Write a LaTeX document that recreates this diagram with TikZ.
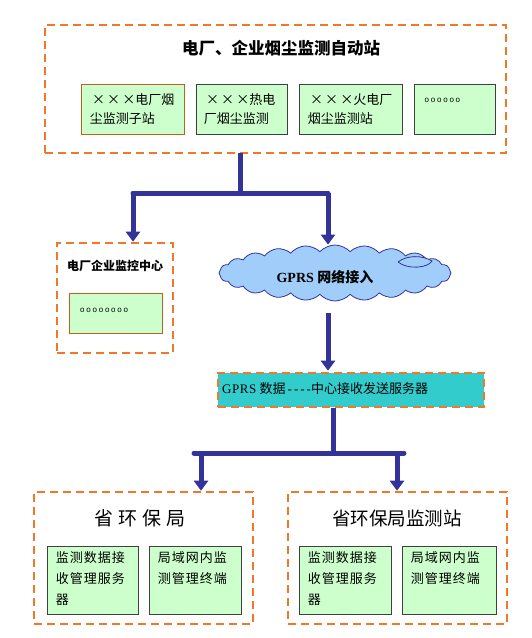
\documentclass[tikz,border=0pt]{standalone}
\usepackage{fontspec}
\setmainfont{Liberation Serif}
\newfontfamily\cjk{Noto Sans CJK SC}
\newfontfamily\dotfont[LetterSpace=22]{Liberation Sans}
\newfontfamily\cjkwide[LetterSpace=8]{Noto Sans CJK SC}
\newfontfamily\cjktitle[LetterSpace=25]{Noto Sans CJK SC}
\newfontfamily\gprsfont[LetterSpace=4]{Liberation Serif}
\usetikzlibrary{shapes.symbols,arrows.meta}
\definecolor{dorange}{RGB}{240,120,40}
\definecolor{lgreen}{RGB}{204,255,204}
\definecolor{navyc}{RGB}{51,51,153}
\definecolor{cloudblue}{RGB}{160,205,250}
\definecolor{tealc}{RGB}{51,204,204}
\tikzset{
  group/.style={draw=dorange, line width=2.6pt, dash pattern=on 8pt off 5pt, rectangle, inner sep=0pt},
  sub/.style={draw=black!75, fill=lgreen, line width=0.7pt, rectangle, inner sep=0pt},
  subo/.style={sub, draw=dorange!80!black},
  flow/.style={draw=navyc, line width=5pt, line cap=round},
  arr/.style={draw=navyc, line width=5pt, -{Triangle[width=14pt,length=10pt]}},
  subtext/.style={anchor=west, align=left, inner sep=0pt, font=\cjk\fontsize{13}{19}\selectfont},
  boxtext/.style={anchor=north west, align=left, inner sep=0pt, font=\cjkwide\fontsize{13}{21}\selectfont},
  dots/.style={anchor=west, inner sep=0pt, font=\dotfont\fontsize{8}{8}\selectfont}
}
\begin{document}
\begin{tikzpicture}[x=1pt,y=-1pt]
\useasboundingbox (0,0) rectangle (531,638);
% top group
\node[group, minimum width=461pt, minimum height=128pt] (top) at (275.5,89) {};
\node[font=\cjk\bfseries\fontsize{16.5}{18}\selectfont, inner sep=0pt] (toptitle) at (281,48) {电厂、企业烟尘监测自动站};
\node[subo, minimum width=103pt, minimum height=50pt] (s1) at (132.5,109) {};
\node[sub, minimum width=91pt, minimum height=50pt] (s2) at (241.5,109) {};
\node[sub, minimum width=103pt, minimum height=50pt] (s3) at (350.5,109) {};
\node[sub, minimum width=81pt, minimum height=50pt] (s4) at (454.5,109) {};
\node[subtext] (t1) at ([xshift=9pt]s1.west) {\,×\,×\,×电厂烟\\尘监测子站};
\node[subtext] (t2) at ([xshift=8pt]s2.west) {\,×\,×\,×热电\\厂烟尘监测};
\node[subtext] (t3) at ([xshift=9pt]s3.west) {\,×\,×\,×火电厂\\烟尘监测站};
\node[dots] (t4) at (424.5,100) {oooooo};
% connectors from top
\coordinate (j1) at (240,193);
\coordinate (bl) at (133,193);
\coordinate (br) at (328,193);
\draw[flow, line cap=butt] (240,153) -- (j1);
\draw[flow] (bl) -- (br);
% left group
\node[group, minimum width=116pt, minimum height=110pt] (left) at (115,298) {};
\node[font=\cjk\bfseries\fontsize{12}{14}\selectfont, inner sep=0pt] (lefttitle) at (115,266) {电厂企业监控中心};
\node[subo, minimum width=93pt, minimum height=40pt] (l1) at (115.5,313) {};
\node[dots] (lt) at (80,310) {oooooooo};
% cloud
\node[cloud, cloud puffs=24, cloud puff arc=95, aspect=4.2, draw=navyc, line width=0.8pt, fill=cloudblue, minimum width=232pt, minimum height=56pt, inner sep=0pt] (cloud) at (335,273) {};
\draw[navyc, line width=0.8pt, fill=cloudblue] (398,262) .. controls (407,255) and (422,255) .. (432,261) .. controls (428,268) and (408,270) .. (398,262);
\node[font=\bfseries\fontsize{14}{16}\selectfont, inner sep=0pt] (cloudtext) at (325,277) {GPRS {\cjk 网络接入}};
\draw[arr] (bl) -- (left.north -| bl);
\draw[arr] (br) -- (cloud.north -| br);
% server
\node[group, fill=tealc, minimum width=266pt, minimum height=34pt] (srv) at (351,390) {};
\node[anchor=west, inner sep=0pt, font=\fontsize{13}{14}\selectfont] (srvtext) at (222,389) {{\gprsfont GPRS} {\cjk 数据}\,-\kern2pt-\kern2pt-\kern2pt-{\cjk 中心接收发送服务器}};
\draw[arr, shorten >=1pt] (328,313) -- (srv.north -| 328,0);
% bottom connectors
\coordinate (j2) at (333,453);
\coordinate (bl2) at (201,453);
\coordinate (br2) at (397,453);
\draw[flow, line cap=butt] (srv.south -| j2) -- (j2);
\draw[flow] (194,453) -- (404,453);
% bottom groups
\node[group, minimum width=219pt, minimum height=132pt] (gl) at (143.5,558) {};
\node[group, minimum width=219pt, minimum height=132pt] (gr) at (397.5,558) {};
\draw[arr] (bl2) -- (gl.north -| bl2);
\draw[arr] (br2) -- (gr.north -| br2);
\node[font=\cjktitle\fontsize{19}{22}\selectfont, inner sep=0pt] (glt) at (140,518) {省环保局};
\node[font=\cjk\fontsize{18.5}{22}\selectfont, inner sep=0pt] (grt) at (397,518) {省环保局监测站};
\node[sub, minimum width=91pt, minimum height=68pt] (b1) at (92.5,580) {};
\node[sub, minimum width=92pt, minimum height=68pt] (b2) at (195,580) {};
\node[sub, minimum width=92pt, minimum height=68pt] (b3) at (345,580) {};
\node[sub, minimum width=94pt, minimum height=68pt] (b4) at (449,580) {};
\node[boxtext] (bt1) at ([xshift=9pt,yshift=-6pt]b1.north west) {监测数据接\\收管理服务\\器};
\node[boxtext] (bt2) at ([xshift=9pt,yshift=-6pt]b2.north west) {局域网内监\\测管理终端};
\node[boxtext] (bt3) at ([xshift=9pt,yshift=-6pt]b3.north west) {监测数据接\\收管理服务\\器};
\node[boxtext] (bt4) at ([xshift=9pt,yshift=-6pt]b4.north west) {局域网内监\\测管理终端};
\end{tikzpicture}
\end{document}
